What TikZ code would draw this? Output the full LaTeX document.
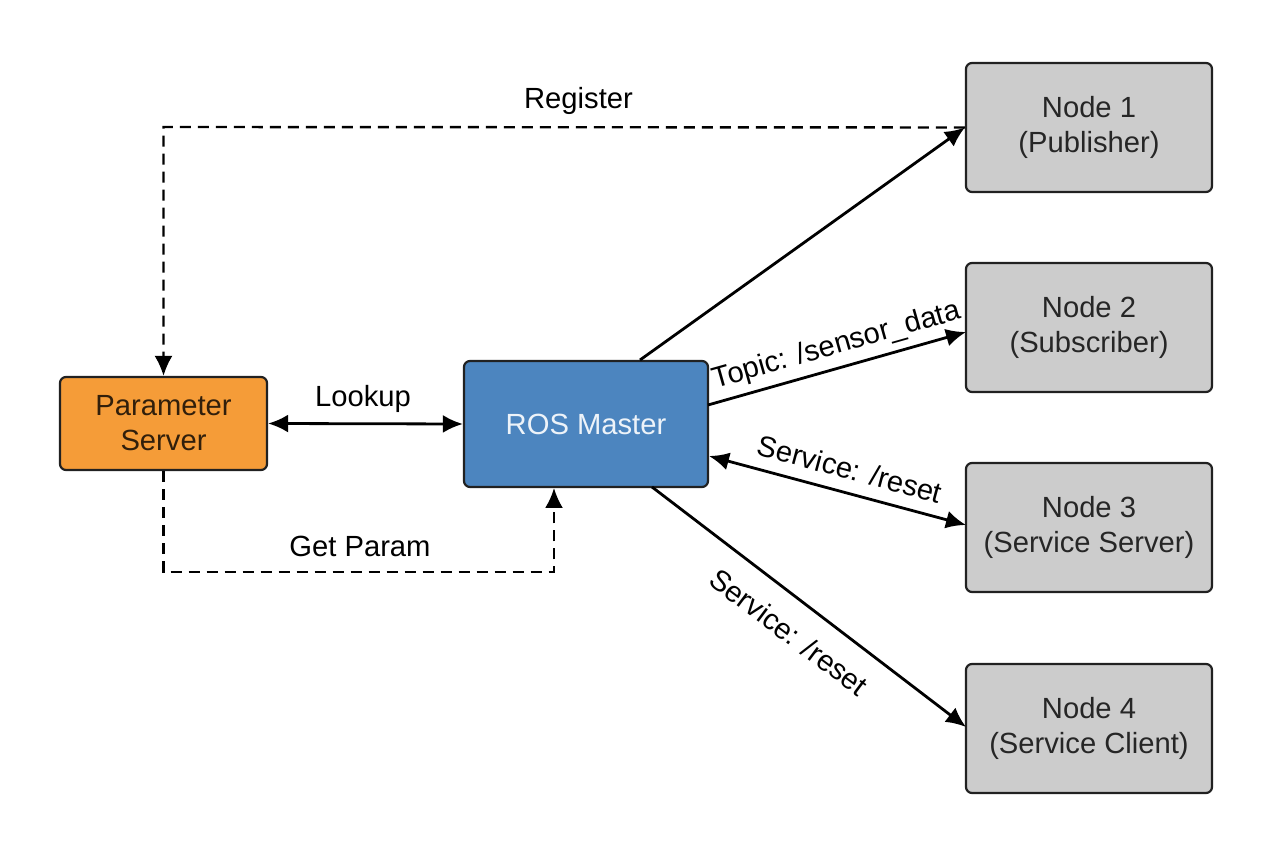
\documentclass[tikz,border=0pt]{standalone}
\usepackage{fontspec}
\setmainfont{Liberation Sans}
\usetikzlibrary{arrows.meta}
\definecolor{nodegray}{rgb}{0.80,0.80,0.80}
\definecolor{rosblue}{rgb}{0.30,0.52,0.75}
\definecolor{paramorange}{rgb}{0.96,0.61,0.22}
\definecolor{boxline}{rgb}{0.13,0.13,0.13}
\tikzset{
  rosbox/.style={draw=boxline,line width=2.2bp,rounded corners=6bp,inner sep=0pt,align=center,
    font=\fontsize{29.3}{35}\selectfont,text=black!85},
  nodebox/.style={rosbox,fill=nodegray,minimum width=246bp,minimum height=129bp},
  edgelabel/.style={font=\fontsize{29.3}{35}\selectfont,inner sep=0pt},
  edge/.style={line width=2.8bp},
  dashedge/.style={line width=2.4bp,dash pattern=on 11bp off 7bp},
}
\begin{document}
\begin{tikzpicture}[>={Latex[length=20bp,width=18bp]},line join=miter]
  \useasboundingbox (0bp,0bp) rectangle (1264bp,848bp);
%%
  % Node: param
  \node [rosbox,fill=paramorange,minimum width=207bp,minimum height=93bp,text=black!80!paramorange] (param) at (163.5bp,424.5bp) {Parameter\\Server};
  % Node: master
  \node [rosbox,fill=rosblue,minimum width=244bp,minimum height=126bp,text=white!90!rosblue] (master) at (586bp,424bp) {ROS Master};
  % Node: 1
  \node [nodebox] (node1) at (1089bp,720.5bp) {Node 1\\(Publisher)};
  % Node: 2
  \node [nodebox] (node2) at (1089bp,520.5bp) {Node 2\\(Subscriber)};
  % Node: 3
  \node [nodebox] (node3) at (1089bp,320.5bp) {Node 3\\(Service Server)};
  % Node: 4
  \node [nodebox] (node4) at (1089bp,119.5bp) {Node 4\\(Service Client)};
%%
  \coordinate (masterA) at (640bp,488bp);
  \coordinate (masterB) at (708bp,443bp);
  \coordinate (masterC) at (709bp,392bp);
  \coordinate (masterD) at (652bp,361bp);
  \coordinate (masterE) at (554bp,360bp);
  \coordinate (node2in) at (966bp,516bp);
  \coordinate (node3in) at (966bp,323bp);
  \coordinate (node4in) at (966bp,121bp);
  \coordinate (regcorner) at (163.5bp,721bp);
  \coordinate (getcorner) at (163.5bp,276bp);
  \coordinate (getend) at (554bp,276bp);
  % Edge: master -> 1
  \draw [->,edge] (masterA) -- (node1.west);
  % Edge: master -> 2
  \draw [->,edge] (masterB) -- (node2in);
  \node [edgelabel,rotate=15.8] (topic) at (837bp,502bp) {Topic: /sensor\_data};
  % Edge: master <-> 3
  \draw [<->,edge] (masterC) -- (node3in);
  \node [edgelabel,rotate=-15] (srvreset) at (850bp,379bp) {Service: /reset};
  % Edge: master -> 4
  \draw [->,edge] (masterD) -- (node4in);
  \node [edgelabel,rotate=-37] (cltreset) at (789bp,216bp) {Service: /reset};
  % Edge: param <-> master
  \draw [<->,edge] (param.east) -- (master.west);
  \node [edgelabel] (lookup) at (363bp,449bp) {Lookup};
  % Edge: 1 -> param
  \draw [->,dashedge] (node1.west) -- (regcorner) -- (param.north);
  \node [edgelabel] (register) at (578.5bp,747bp) {Register};
  % Edge: param -> master
  \draw [->,dashedge] (param.south) -- (getcorner) -- (getend) -- (masterE);
  \node [edgelabel] (getparam) at (360bp,302bp) {Get Param};
%
\end{tikzpicture}
\end{document}
